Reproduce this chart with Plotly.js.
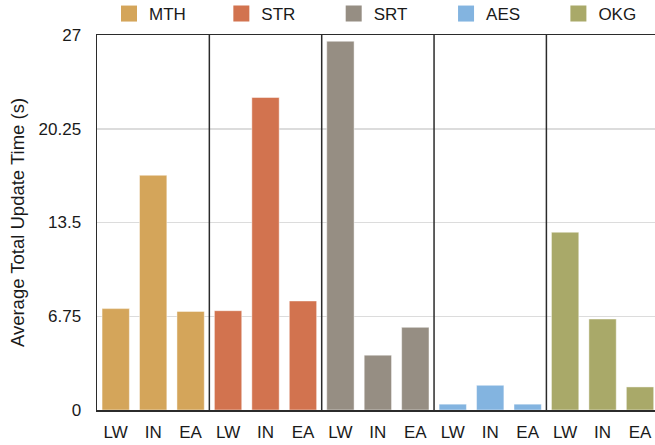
<!DOCTYPE html>
<html>
<head>
<meta charset="utf-8">
<script src="https://cdn.plot.ly/plotly-3.0.1.min.js"></script>
<style>html,body{margin:0;padding:0;background:#fff;overflow:hidden;}</style>
</head>
<body>
<div id="chart" style="width:655px;height:445px;"></div>
<script>
// ---- data ----
const groups = ["MTH", "STR", "SRT", "AES", "OKG"];
const subLabels = ["LW", "IN", "EA"];
const colors = ["#D4A55A", "#D2734F", "#968E83", "#83B4E0", "#A9A969"];
const MTH = [7.3, 16.9, 7.1];
const STR = [7.15, 22.5, 7.85];
const SRT = [26.55, 3.95, 5.95];
const AES = [0.42, 1.78, 0.42];
const OKG = [12.8, 6.55, 1.66];
const seriesValues = [MTH, STR, SRT, AES, OKG];
const yTicks = [0, 6.75, 13.5, 20.25, 27];

const FONT = "Liberation Sans, Arial, Helvetica, sans-serif";
const n = subLabels.length;
const ML = 97, PW = 558;
const xMin = -0.5, xMax = 14.4;
const slotPx = PW / (xMax - xMin);

const traces = [];
groups.forEach((g, gi) => {
  traces.push({
    type: "bar",
    name: g,
    x: subLabels.map((_, i) => gi * n + i),
    y: seriesValues[gi],
    width: 0.73,
    marker: { color: colors[gi], line: { color: "rgba(255,255,255,0.45)", width: 1 } },
    showlegend: false,
    hoverinfo: "y"
  });
});
// legend entries, one legend per group
const legendName = gi => gi === 0 ? "legend" : "legend" + (gi + 1);
groups.forEach((g, gi) => {
  traces.push({
    type: "scatter", mode: "markers", name: g,
    x: [null], y: [null],
    marker: { symbol: "square", size: 16, color: colors[gi] },
    showlegend: true, hoverinfo: "skip",
    legend: legendName(gi)
  });
});

const tickvals = [];
const ticktext = [];
groups.forEach((g, gi) => subLabels.forEach((s, i) => { tickvals.push(gi * n + i); ticktext.push(s); }));

const shapes = [];
for (let gi = 1; gi < groups.length; gi++) {
  shapes.push({
    type: "line", xref: "x", yref: "paper",
    x0: gi * n - 0.5, x1: gi * n - 0.5, y0: 0, y1: 1,
    line: { color: "#2b2b2b", width: 1.5 }
  });
}

const layout = {
  width: 655, height: 445,
  margin: { l: ML, r: 0, t: 35, b: 35, autoexpand: false },
  paper_bgcolor: "#ffffff", plot_bgcolor: "#ffffff",
  font: { family: FONT, size: 17, color: "#1a1a1a" },
  showlegend: true,
  xaxis: {
    range: [xMin, xMax],
    tickmode: "array", tickvals: tickvals, ticktext: ticktext,
    showgrid: false, zeroline: false,
    showline: true, linecolor: "#2b2b2b", linewidth: 1.5, mirror: true,
    ticks: "", ticklabelstandoff: 6,
    tickfont: { family: FONT, size: 17, color: "#1a1a1a" },
    automargin: false,
    fixedrange: true
  },
  yaxis: {
    range: [0, 27],
    tickmode: "array", tickvals: yTicks, ticktext: yTicks.map(String),
    showgrid: true, gridcolor: "#dcdcdc", gridwidth: 1.5,
    zeroline: false,
    showline: true, linecolor: "#2b2b2b", linewidth: 1.5,
    ticks: "", ticklabelstandoff: 11,
    tickfont: { family: FONT, size: 17, color: "#1a1a1a" },
    title: { text: "Average Total Update Time (s)", font: { family: FONT, size: 18.5, color: "#1a1a1a" }, standoff: 9 },
    automargin: false,
    fixedrange: true
  },
  shapes: shapes,
  bargap: 0.27
};
groups.forEach((g, gi) => {
  layout[legendName(gi)] = {
    orientation: "h",
    x: (12 + gi * n * slotPx) / PW, xanchor: "left", xref: "paper",
    y: 1.056, yanchor: "middle", yref: "paper",
    font: { family: FONT, size: 17, color: "#1a1a1a" },
    bgcolor: "rgba(0,0,0,0)", borderwidth: 0
  };
});

Plotly.newPlot("chart", traces, layout, { displayModeBar: false, staticPlot: true });
</script>
</body>
</html>
